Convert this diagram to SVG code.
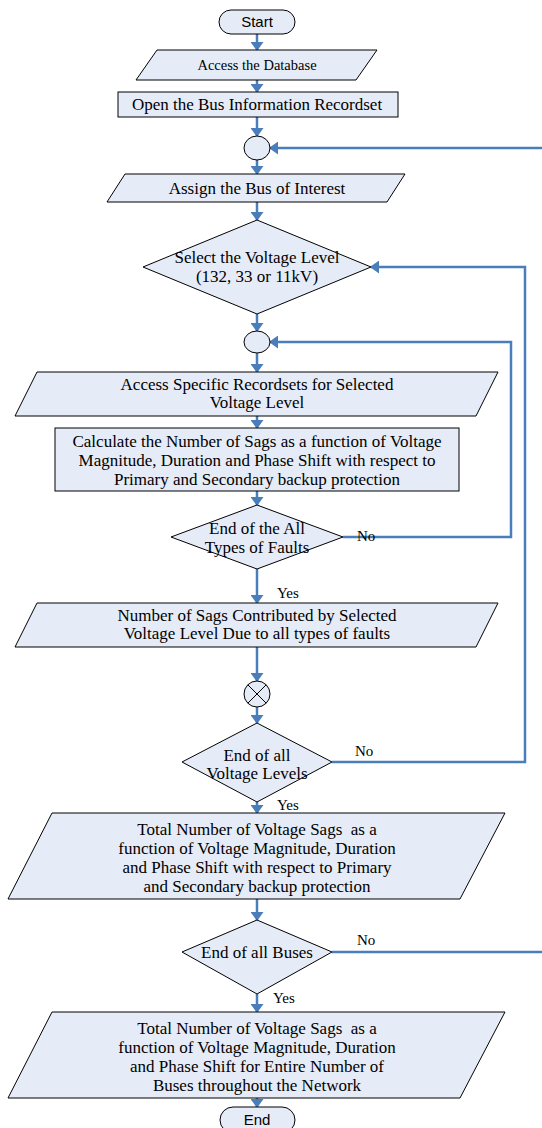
<svg xmlns="http://www.w3.org/2000/svg" width="542" height="1128" viewBox="0 0 542 1128">
<defs>
<marker id="ah" markerUnits="userSpaceOnUse" markerWidth="10" markerHeight="13" refX="8" refY="6.5" orient="auto">
<path d="M0,0 L9,6.5 L0,13 Z" fill="#4a7ebb"/>
</marker>
<style>
.n{fill:#e6ecf7;stroke:#000;stroke-width:1}
.t{font-family:"Liberation Serif","Times New Roman",serif;font-size:17px;fill:#000;text-anchor:middle;white-space:pre}
.s{font-family:"Liberation Sans",Arial,sans-serif;font-size:15px;fill:#000;text-anchor:middle}
.c{fill:none;stroke:#4a7ebb;stroke-width:2.5}
.a{marker-end:url(#ah)}
.l{font-family:"Liberation Serif","Times New Roman",serif;font-size:15px;fill:#000}
</style>
</defs>
<rect width="542" height="1128" fill="#fff"/>
<g id="connectors">
<path class="c a" d="M257,34 V50"/>
<path class="c a" d="M257,80 V92"/>
<path class="c a" d="M257,117 V136"/>
<path class="c a" d="M542,148 H270"/>
<path class="c a" d="M257,160 V174"/>
<path class="c a" d="M257,202 V220"/>
<path class="c a" d="M332,762 H525 V267 H371"/>
<path class="c a" d="M257,314 V331"/>
<path class="c a" d="M343,537 H511 V342 H270"/>
<path class="c a" d="M257,353 V372"/>
<path class="c a" d="M257,416 V428"/>
<path class="c a" d="M257,491 V505"/>
<path class="c a" d="M257,569 V603"/>
<path class="c a" d="M257,647 V681"/>
<path class="c a" d="M257,707 V723"/>
<path class="c a" d="M257,802 V813"/>
<path class="c a" d="M257,899 V920"/>
<path class="c" d="M332,952 H542"/>
<path class="c a" d="M257,994 V1012"/>
<path class="c a" d="M257,1098 V1107"/>
<text class="l" x="357" y="541">No</text>
<text class="l" x="277" y="598">Yes</text>
<text class="l" x="355" y="756">No</text>
<text class="l" x="277" y="810">Yes</text>
<text class="l" x="357" y="945">No</text>
<text class="l" x="273" y="1003">Yes</text>
</g>
<g id="start">
<rect class="n" x="219" y="10" width="76" height="24" rx="12"/>
<text class="s" x="257" y="27">Start</text>
</g>
<g id="access-db">
<path class="n" d="M157,50 H377 L356,80 H136 Z"/>
<text class="t" x="257" y="70" style="font-size:14.5px">Access the Database</text>
</g>
<g id="open-bus">
<rect class="n" x="118" y="92" width="280" height="25"/>
<text class="t" x="257" y="110">Open the Bus Information Recordset</text>
</g>
<g id="junction1">
<ellipse class="n" cx="257" cy="148" rx="13" ry="12"/>
</g>
<g id="assign-bus">
<path class="n" d="M125,174 H405 L387,202 H107 Z"/>
<text class="t" x="257" y="194">Assign the Bus of Interest</text>
</g>
<g id="select-voltage">
<path class="n" d="M257,220 L371,267 L257,314 L143,267 Z"/>
<text class="t" x="257" y="263">Select the Voltage Level</text>
<text class="t" x="257" y="282">(132, 33 or 11kV)</text>
</g>
<g id="junction2">
<ellipse class="n" cx="257" cy="342" rx="13" ry="11"/>
</g>
<g id="access-specific">
<path class="n" d="M37,372 H498 L476,416 H15 Z"/>
<text class="t" x="257" y="390">Access Specific Recordsets for Selected</text>
<text class="t" x="257" y="408">Voltage Level</text>
</g>
<g id="calculate">
<rect class="n" x="55" y="428" width="404" height="63"/>
<text class="t" x="257" y="447">Calculate the Number of Sags as a function of Voltage</text>
<text class="t" x="257" y="466">Magnitude, Duration and Phase Shift with respect to</text>
<text class="t" x="257" y="485">Primary and Secondary backup protection</text>
</g>
<g id="end-faults">
<path class="n" d="M257,505 L343,537 L257,569 L171,537 Z"/>
<text class="t" x="257" y="534">End of the All</text>
<text class="t" x="257" y="553">Types of Faults</text>
</g>
<g id="number-sags">
<path class="n" d="M37,603 H498 L476,647 H15 Z"/>
<text class="t" x="257" y="621">Number of Sags Contributed by Selected</text>
<text class="t" x="257" y="639">Voltage Level Due to all types of faults</text>
</g>
<g id="summing">
<circle class="n" cx="257" cy="694" r="13"/>
<path d="M247.8,684.8 L266.2,703.2 M266.2,684.8 L247.8,703.2" stroke="#000" stroke-width="1"/>
</g>
<g id="end-voltage">
<path class="n" d="M257,723 L332,762 L257,802 L182,762 Z"/>
<text class="t" x="257" y="761">End of all</text>
<text class="t" x="257" y="779">Voltage Levels</text>
</g>
<g id="total-sags">
<path class="n" d="M52,813 H505 L460,899 H8 Z"/>
<text class="t" x="257" y="835" xml:space="preserve">Total Number of Voltage Sags  as a</text>
<text class="t" x="257" y="854">function of Voltage Magnitude, Duration</text>
<text class="t" x="257" y="873">and Phase Shift with respect to Primary</text>
<text class="t" x="257" y="892">and Secondary backup protection</text>
</g>
<g id="end-buses">
<path class="n" d="M257,920 L332,952 L257,994 L182,952 Z"/>
<text class="t" x="257" y="958">End of all Buses</text>
</g>
<g id="total-network">
<path class="n" d="M52,1012 H505 L460,1098 H8 Z"/>
<text class="t" x="257" y="1034" xml:space="preserve">Total Number of Voltage Sags  as a</text>
<text class="t" x="257" y="1053">function of Voltage Magnitude, Duration</text>
<text class="t" x="257" y="1072">and Phase Shift for Entire Number of</text>
<text class="t" x="257" y="1091">Buses throughout the Network</text>
</g>
<g id="end">
<rect class="n" x="220" y="1107" width="75" height="26" rx="13"/>
<text class="s" x="257" y="1125">End</text>
</g>
</svg>
